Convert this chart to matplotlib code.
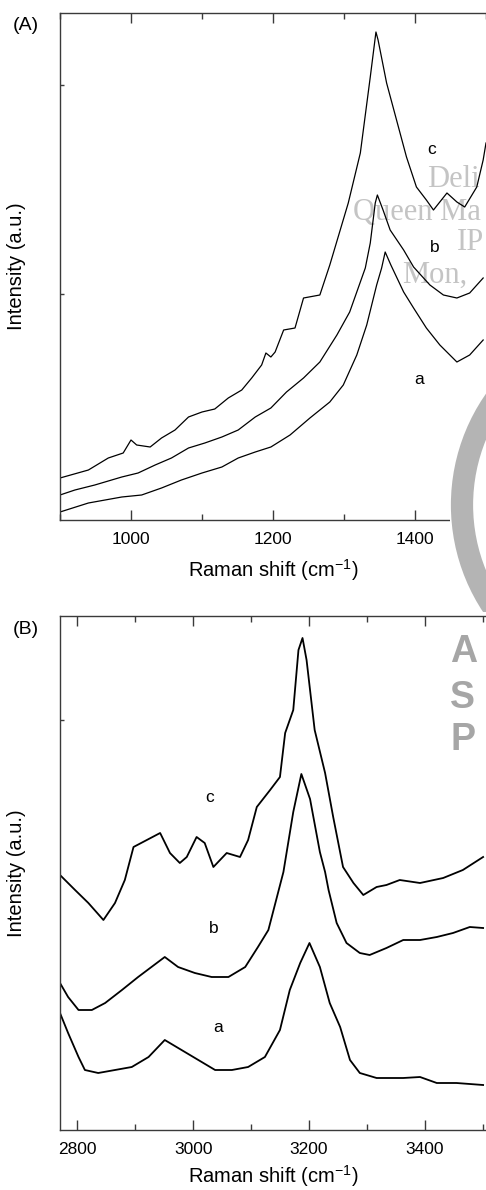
import matplotlib
matplotlib.use('Agg')
import matplotlib.pyplot as plt
from matplotlib.patches import Rectangle, Circle
from matplotlib.ticker import MultipleLocator

plt.rcParams['font.family'] = ['Liberation Sans', 'DejaVu Sans']
plt.rcParams['mathtext.fontset'] = 'custom'
plt.rcParams['mathtext.rm'] = 'Liberation Sans'
plt.rcParams['mathtext.it'] = 'Liberation Sans:italic'

# ---- panel A : 900-1500 cm-1 ----
a_x = [900, 940, 987, 1015, 1043, 1071, 1100, 1128, 1151, 1175, 1197, 1224, 1252, 1280,
       1299, 1318, 1332, 1346, 1353, 1358, 1366, 1384, 1398, 1416, 1435, 1459, 1477, 1496]
a_y = [8, 17, 23, 25, 32, 40, 47, 53, 62, 68, 73, 85, 102, 118,
       135, 165, 195, 235, 252, 268, 255, 228, 212, 192, 175, 158, 165, 180]

b_x = [900, 921, 949, 987, 1010, 1034, 1057, 1081, 1104, 1128, 1151, 1175, 1197, 1219, 1243,
       1266, 1290, 1308, 1323, 1330, 1337, 1344, 1347, 1355, 1365, 1384, 1398, 1421, 1440,
       1459, 1477, 1496]
b_y = [25, 30, 35, 43, 47, 55, 62, 72, 77, 83, 90, 103, 112, 128, 142,
       158, 185, 208, 238, 252, 277, 317, 325, 310, 290, 270, 253, 235, 225,
       222, 227, 242]

c_x = [900, 940, 968, 989, 1000, 1008, 1027, 1043, 1062, 1081, 1100, 1118, 1137, 1156, 1170,
       1184, 1190, 1197, 1203, 1215, 1231, 1243, 1266, 1280, 1306, 1323, 1337, 1345, 1348,
       1360, 1374, 1388, 1402, 1416, 1426, 1445, 1459, 1470, 1487, 1496, 1500]
c_y = [42, 50, 62, 67, 80, 75, 73, 82, 90, 103, 108, 111, 122, 130, 142,
       155, 167, 163, 168, 190, 192, 222, 225, 255, 317, 367, 443, 488, 480,
       437, 400, 363, 333, 320, 310, 327, 318, 313, 333, 360, 377]

# ---- panel B : 2770-3500 cm-1 ----
ba_x = [2770, 2784, 2802, 2813, 2836, 2865, 2894, 2923, 2951, 2980, 3009, 3038, 3067, 3095,
        3124, 3150, 3167, 3185, 3201, 3219, 3236, 3254, 3271, 3288, 3317, 3363, 3392, 3421,
        3455, 3501]
ba_y = [117, 97, 73, 60, 57, 60, 63, 73, 90, 80, 70, 60, 60, 63,
        73, 100, 140, 167, 187, 163, 127, 103, 70, 57, 52, 52, 53, 47,
        47, 45]

bb_x = [2770, 2784, 2802, 2825, 2848, 2877, 2905, 2928, 2951, 2974, 3003, 3032, 3061, 3090,
        3112, 3130, 3156, 3173, 3187, 3202, 3219, 3228, 3234, 3248, 3265, 3288, 3305, 3334,
        3363, 3392, 3421, 3449, 3478, 3501]
bb_y = [147, 133, 120, 120, 127, 140, 153, 163, 173, 163, 157, 153, 153, 163,
        183, 200, 258, 318, 356, 331, 278, 258, 240, 207, 187, 177, 175, 182,
        190, 190, 193, 197, 203, 202]

bc_x = [2770, 2796, 2819, 2845, 2865, 2882, 2897, 2920, 2943, 2960, 2977, 2989, 3006, 3020,
        3035, 3058, 3081, 3095, 3110, 3133, 3150, 3159, 3173, 3182, 3189, 3196, 3210, 3228,
        3242, 3259, 3277, 3294, 3317, 3334, 3357, 3392, 3432, 3466, 3501]
bc_y = [255, 240, 227, 210, 227, 250, 283, 290, 297, 277, 267, 273, 293, 287,
        263, 277, 273, 290, 323, 340, 353, 397, 420, 480, 492, 470, 400, 357,
        313, 263, 247, 235, 243, 245, 250, 247, 252, 260, 273]

W, H = 486, 1190
fig = plt.figure(figsize=(W / 100, H / 100), dpi=100)

def px_axes(left, top, right, bottom):
    return fig.add_axes([left / W, 1 - bottom / H, (right - left) / W, (bottom - top) / H])

axA = px_axes(60, 13, 486, 520)
axB = px_axes(60, 616, 486, 1130)

spine_col = '#3a3a3a'
for ax in (axA, axB):
    for s in ('left', 'bottom', 'top'):
        ax.spines[s].set_color(spine_col)
        ax.spines[s].set_linewidth(1.0)
    ax.spines['right'].set_visible(False)
    ax.tick_params(axis='x', which='both', direction='in', top=True, colors=spine_col,
                   labelcolor='black', labelsize=12.5)
    ax.tick_params(axis='x', which='major', length=7, width=1, pad=9)
    ax.tick_params(axis='x', which='minor', length=4, width=1)
    ax.tick_params(axis='y', direction='in', length=3, width=1, colors=spine_col, labelleft=False)
    ax.xaxis.set_major_locator(MultipleLocator(200))
    ax.xaxis.set_minor_locator(MultipleLocator(100))
    ax.set_ylabel('Intensity (a.u.)', fontsize=14.5)
    ax.yaxis.set_label_coords(-34 / 426, 0.5)

axA.set_xlabel('Raman shift (cm$^{-1}$)', fontsize=14.5, labelpad=7)
axB.set_xlabel('Raman shift (cm$^{-1}$)', fontsize=14.5, labelpad=4)

axA.plot(a_x, a_y, color='black', lw=0.9)
axA.plot(b_x, b_y, color='black', lw=0.9)
axA.plot(c_x, c_y, color='black', lw=0.9)
axA.set_xlim(900, 1500)
axA.set_ylim(0, 507)
axA.set_yticks([226, 435])
axA.text(1423, 371, 'c', fontsize=12.5, ha='center', va='center')
axA.text(1428, 273, 'b', fontsize=12.5, ha='center', va='center')
axA.text(1406, 141, 'a', fontsize=12.5, ha='center', va='center')

axB.plot(ba_x, ba_y, color='black', lw=1.3)
axB.plot(bb_x, bb_y, color='black', lw=1.3)
axB.plot(bc_x, bc_y, color='black', lw=1.3)
axB.set_xlim(2770, 3506)
axB.set_ylim(0, 514)
axB.set_yticks([410])
axB.text(3028, 332, 'c', fontsize=12.5, ha='center', va='center')
axB.text(3035, 201, 'b', fontsize=12.5, ha='center', va='center')
axB.text(3043, 102, 'a', fontsize=12.5, ha='center', va='center')

fig.text(13 / W, 1 - 25 / H, '(A)', fontsize=14, va='center', ha='left')
fig.text(13 / W, 1 - 630 / H, '(B)', fontsize=14, va='center', ha='left')

# watermark of the source pdf (grey serif text, logo box) - only the visible part
inch = fig.dpi_scale_trans
wm = [('Deli', 427, 187), ('Queen Ma', 353, 220), ('IP', 457, 250), ('Mon,', 402, 283)]
for txt, xp, yp in wm:
    axA.text(xp / 100, (H - yp) / 100, txt, transform=inch, fontsize=22, color='#c4c4c4',
             family='Liberation Serif', va='baseline', ha='left', zorder=1, clip_on=False)

boxA = Rectangle((450 / 100, (H - 612) / 100), 0.40, (612 - 363) / 100, transform=inch,
                 facecolor='white', edgecolor='none', zorder=10)
fig.add_artist(boxA)
ring = Circle((645 / 100, (H - 505) / 100), 1.83, transform=inch, facecolor='none',
              edgecolor='#b4b4b4', linewidth=16, zorder=11)
fig.add_artist(ring)
ring.set_clip_path(boxA)

boxB = Rectangle((450 / 100, (H - 757) / 100), 0.40, (757 - 625) / 100, transform=inch,
                 facecolor='white', edgecolor='none', zorder=10)
fig.add_artist(boxB)
for letter, yp in [('A', 652), ('S', 698), ('P', 740)]:
    fig.text(450 / W, 1 - yp / H, letter, fontsize=27, fontweight='bold', color='#a6a6a6',
             va='center', ha='left', zorder=11)

fig.savefig('out.png', dpi=100)
